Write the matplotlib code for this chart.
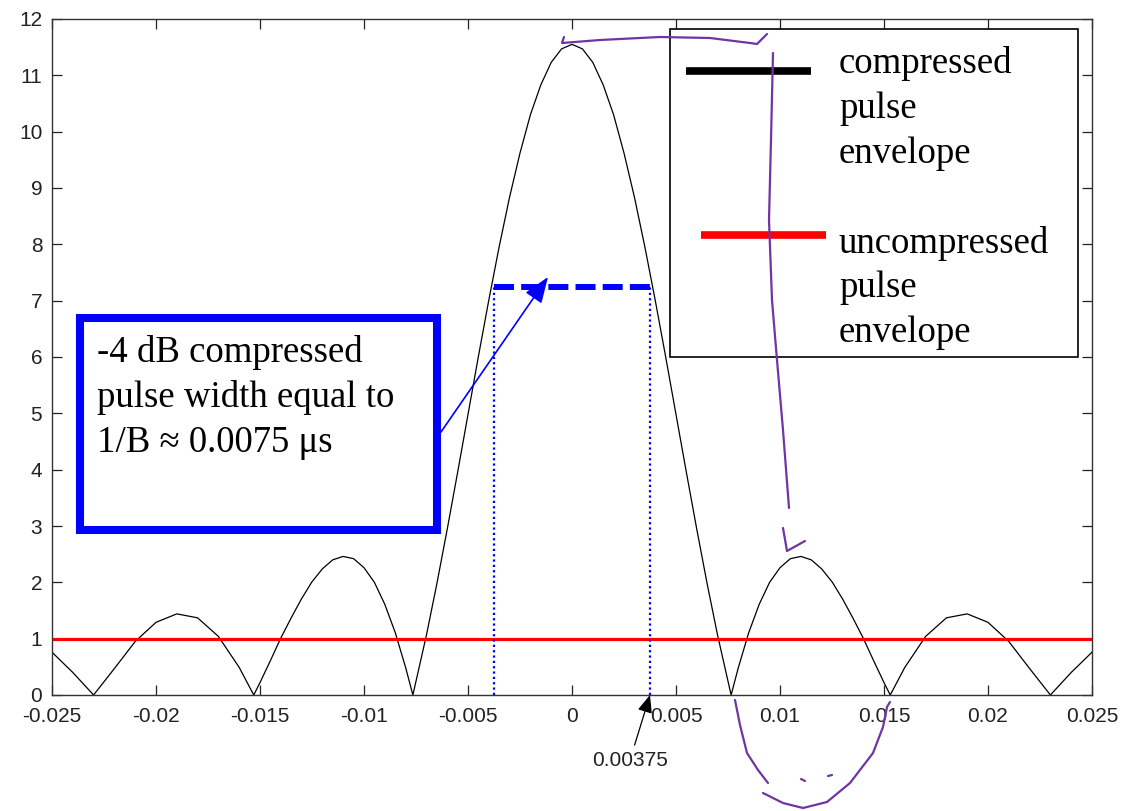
import matplotlib
matplotlib.use("Agg")
import matplotlib.pyplot as plt
from matplotlib.patches import Rectangle
from matplotlib.lines import Line2D

# compressed pulse envelope
t_us = [-0.025, -0.024, -0.023, -0.022, -0.021, -0.020, -0.019, -0.018, -0.017, -0.016,
        -0.0153, -0.015, -0.0145, -0.014, -0.0135, -0.013, -0.0125, -0.012, -0.0115, -0.011,
        -0.0105, -0.010, -0.0095, -0.009, -0.0085, -0.008, -0.00765, -0.007, -0.0065, -0.006,
        -0.0055, -0.005, -0.0045, -0.004, -0.0035, -0.003, -0.0025, -0.002, -0.0015, -0.001,
        -0.0005, 0.0,
        0.0005, 0.001, 0.0015, 0.002, 0.0025, 0.003, 0.0035, 0.004, 0.0045, 0.005,
        0.0055, 0.006, 0.0065, 0.007, 0.00765, 0.008, 0.0085, 0.009, 0.0095, 0.010,
        0.0105, 0.011, 0.0115, 0.012, 0.0125, 0.013, 0.0135, 0.014, 0.0145, 0.015,
        0.0153, 0.016, 0.017, 0.018, 0.019, 0.020, 0.021, 0.022, 0.023, 0.024, 0.025]
compressed = [0.76, 0.40, 0.00, 0.47, 0.95, 1.29, 1.44, 1.37, 1.04, 0.49,
              0.00, 0.22, 0.61, 1.01, 1.37, 1.71, 2.01, 2.24, 2.40, 2.46,
              2.42, 2.26, 2.00, 1.61, 1.11, 0.49, 0.00, 1.06, 1.97, 2.94,
              3.95, 4.98, 6.01, 7.01, 7.96, 8.84, 9.62, 10.30, 10.83, 11.23,
              11.47, 11.55,
              11.47, 11.23, 10.83, 10.30, 9.62, 8.84, 7.96, 7.01, 6.01, 4.98,
              3.95, 2.94, 1.97, 1.06, 0.00, 0.49, 1.11, 1.61, 2.00, 2.26,
              2.42, 2.46, 2.40, 2.24, 2.01, 1.71, 1.37, 1.01, 0.61, 0.22,
              0.00, 0.49, 1.04, 1.37, 1.44, 1.29, 0.95, 0.47, 0.00, 0.40, 0.76]

uncompressed_level = 1.0
width_level = 7.25
width_edges = [-0.00375, 0.00375]

x_ticks = [-0.025, -0.02, -0.015, -0.01, -0.005, 0, 0.005, 0.01, 0.015, 0.02, 0.025]
x_tick_labels = ['-0.025', '-0.02', '-0.015', '-0.01', '-0.005', '0', '0.005', '0.01', '0.015', '0.02', '0.025']
y_ticks = list(range(0, 13))

box_lines = ['-4 dB compressed', 'pulse width equal to', '1/B \u2248 0.0075 \u03bcs']
legend_top = ['compressed', 'pulse', 'envelope']
legend_bottom = ['uncompressed', 'pulse', 'envelope']

W, H = 1122, 811
AX_L, AX_R, AX_T, AX_B = 52, 1092, 19, 695


def fx(px):
    return (px - AX_L) / (AX_R - AX_L)


def fy(py):
    return (AX_B - py) / (AX_B - AX_T)


fig = plt.figure(figsize=(W / 100, H / 100), dpi=100)
ax = fig.add_axes([AX_L / W, 1 - AX_B / H, (AX_R - AX_L) / W, (AX_B - AX_T) / H])

ax.plot(t_us, compressed, color='black', lw=0.9)
ax.axhline(uncompressed_level, color='#ff0000', lw=2.3)
ax.plot(width_edges, [width_level, width_level], color='blue', lw=4.3, ls=(0, (3.35, 1.2)),
        dash_capstyle='butt')
for e in width_edges:
    ax.plot([e, e], [0, width_level], color='blue', lw=1.6, ls=(0, (1, 1.4)))

ax.set_xlim(-0.025, 0.025)
ax.set_ylim(0, 12)
ax.set_xticks(x_ticks)
ax.set_xticklabels(x_tick_labels)
ax.set_yticks(y_ticks)
ax.tick_params(direction='in', length=7, width=0.9, top=True, right=True,
               labelsize=15, colors='#222222')
ax.tick_params(axis='x', pad=8.5)
ax.tick_params(axis='y', pad=7)
for lab in ax.get_xticklabels() + ax.get_yticklabels():
    lab.set_family('Liberation Sans')
for sp in ax.spines.values():
    sp.set_color('#333333')
    sp.set_linewidth(1.0)

serif = dict(family='Liberation Serif', fontsize=26.5, color='black', transform=ax.transAxes)

# annotation box
ax.add_patch(Rectangle((fx(80), fy(530)), fx(437) - fx(80), fy(318) - fy(530),
                       transform=ax.transAxes, fill=True, facecolor='white',
                       edgecolor='blue', lw=5.8, zorder=5))
for line, base in zip(box_lines, [362, 407, 452]):
    ax.text(fx(97), fy(base), line, ha='left', va='baseline', zorder=6, **serif)
ax.annotate('', xy=(fx(548), fy(277)), xytext=(fx(441), fy(432)),
            xycoords='axes fraction', textcoords='axes fraction',
            arrowprops=dict(arrowstyle='-|>,head_length=0.8,head_width=0.3', color='blue',
                            lw=1.2, mutation_scale=20, shrinkA=0, shrinkB=0), zorder=6)

# legend drawn by hand
ax.add_patch(Rectangle((fx(670), fy(357)), fx(1078) - fx(670), fy(29) - fy(357),
                       transform=ax.transAxes, facecolor='white', edgecolor='black',
                       lw=1.2, zorder=5))
ax.add_line(Line2D([fx(686), fx(811)], [fy(71), fy(71)], transform=ax.transAxes,
                   color='black', lw=5.5, solid_capstyle='butt', zorder=6))
ax.add_line(Line2D([fx(701), fx(826)], [fy(235), fy(235)], transform=ax.transAxes,
                   color='#ff0000', lw=5.5, solid_capstyle='butt', zorder=6))
for line, base in zip(legend_top, [73, 118, 163]):
    ax.text(fx(839), fy(base), line, ha='left', va='baseline', zorder=6, **serif)
for line, base in zip(legend_bottom, [253, 297, 342]):
    ax.text(fx(839), fy(base), line, ha='left', va='baseline', zorder=6, **serif)

# marker for the half width
ax.annotate('0.00375', xy=(width_edges[1], 0), xytext=(fx(630), fy(760)),
            xycoords='data', textcoords='axes fraction', ha='center', va='center',
            family='Liberation Sans', fontsize=15, color='#222222', annotation_clip=False,
            arrowprops=dict(arrowstyle='-|>,head_length=0.6,head_width=0.25', color='black',
                            lw=0.9, mutation_scale=18, shrinkA=2, shrinkB=0))

# hand-drawn purple marks
ink = dict(color='#6f35a5', lw=1.6, solid_capstyle='round', transform=fig.transFigure, zorder=10)
strokes = [
    [(564, 37), (562, 43), (600, 40), (660, 37), (710, 38), (750, 43), (757, 44), (767, 34)],
    [(773, 53), (771, 140), (769, 220), (772, 300), (777, 360), (783, 430), (789, 508)],
    [(783, 528), (787, 551), (805, 541)],
    [(735, 700), (740, 725), (747, 753), (758, 770), (768, 783)],
    [(763, 793), (783, 803), (803, 808), (827, 802), (850, 783), (873, 753), (883, 727),
     (887, 707), (890, 702)],
    [(801, 779), (805, 781)],
    [(828, 776), (832, 775)],
]
for s in strokes:
    fig.add_artist(Line2D([p[0] / W for p in s], [1 - p[1] / H for p in s], **ink))

fig.savefig('out.png', dpi=100)
